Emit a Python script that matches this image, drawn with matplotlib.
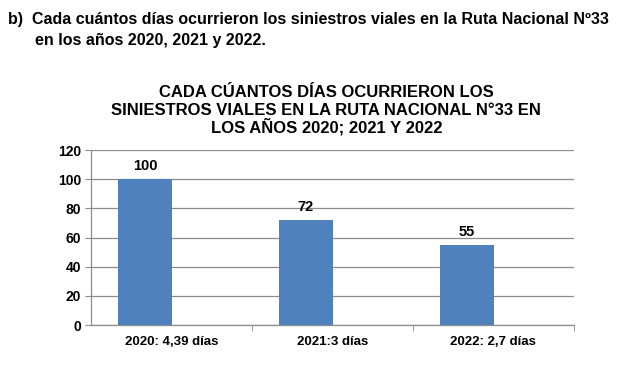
import matplotlib
matplotlib.use("Agg")
import matplotlib.pyplot as plt
from matplotlib.ticker import FixedLocator

plt.rcParams["font.family"] = ["Liberation Sans", "DejaVu Sans"]

categories = ["2020: 4,39 días", "2021:3 días", "2022: 2,7 días"]
values = [100, 72, 55]
y_ticks = [0, 20, 40, 60, 80, 100, 120]

heading = ("b)  Cada cuántos días ocurrieron los siniestros viales en la Ruta Nacional Nº33\n"
           "      en los años 2020, 2021 y 2022.")
title_lines = ["CADA CÚANTOS DÍAS OCURRIERON LOS",
               "SINIESTROS VIALES EN LA RUTA NACIONAL N°33 EN",
               "LOS AÑOS 2020; 2021 Y 2022"]

bar_color = "#4F81BD"
grid_color = "#8C8C8C"

fig = plt.figure(figsize=(6.3, 3.78), dpi=100)
ax = fig.add_axes([0.1444, 0.140, 0.7666, 0.463])

# bars sit left of the category centre (empty second series slot, as in Excel)
width = 0.335
x = [i - 0.5 + 0.168 + width / 2 for i in range(len(categories))]
bars = ax.bar(x, values, width=width, color=bar_color, zorder=3)
for b, v in zip(bars, values):
    ax.text(b.get_x() + b.get_width() / 2, v + 4, f"{v}", ha="center", va="bottom",
            fontsize=10.5, fontweight="bold")

ax.set_xlim(-0.5, len(categories) - 0.5)
ax.set_ylim(0, 120)
ax.set_yticks(y_ticks)
ax.set_yticklabels([str(t) for t in y_ticks], fontsize=10, fontweight="bold")
ax.set_xticks(range(len(categories)))
ax.set_xticklabels(categories, fontsize=9.5, fontweight="bold")
ax.xaxis.set_minor_locator(FixedLocator([i + 0.5 for i in range(len(categories))]))
ax.tick_params(axis="x", which="major", length=0, pad=8)
ax.tick_params(axis="x", which="minor", length=4, color=grid_color)
ax.tick_params(axis="y", length=4, color=grid_color, pad=3)

ax.grid(axis="y", color=grid_color, linewidth=0.9, zorder=0)
for s in ["top", "right"]:
    ax.spines[s].set_visible(False)
for s in ["left", "bottom"]:
    ax.spines[s].set_color(grid_color)
    ax.spines[s].set_linewidth(0.9)

fig.text(0.013, 0.968, heading, ha="left", va="top", fontsize=11.5,
         fontweight="bold", linespacing=1.5)
# one text per title line so accented capitals don't stretch the spacing
for k, line in enumerate(title_lines):
    fig.text(0.518, 0.744 - k * 0.0476, line, ha="center", va="baseline",
             fontsize=12, fontweight="bold")

fig.savefig("out.png", dpi=100)
